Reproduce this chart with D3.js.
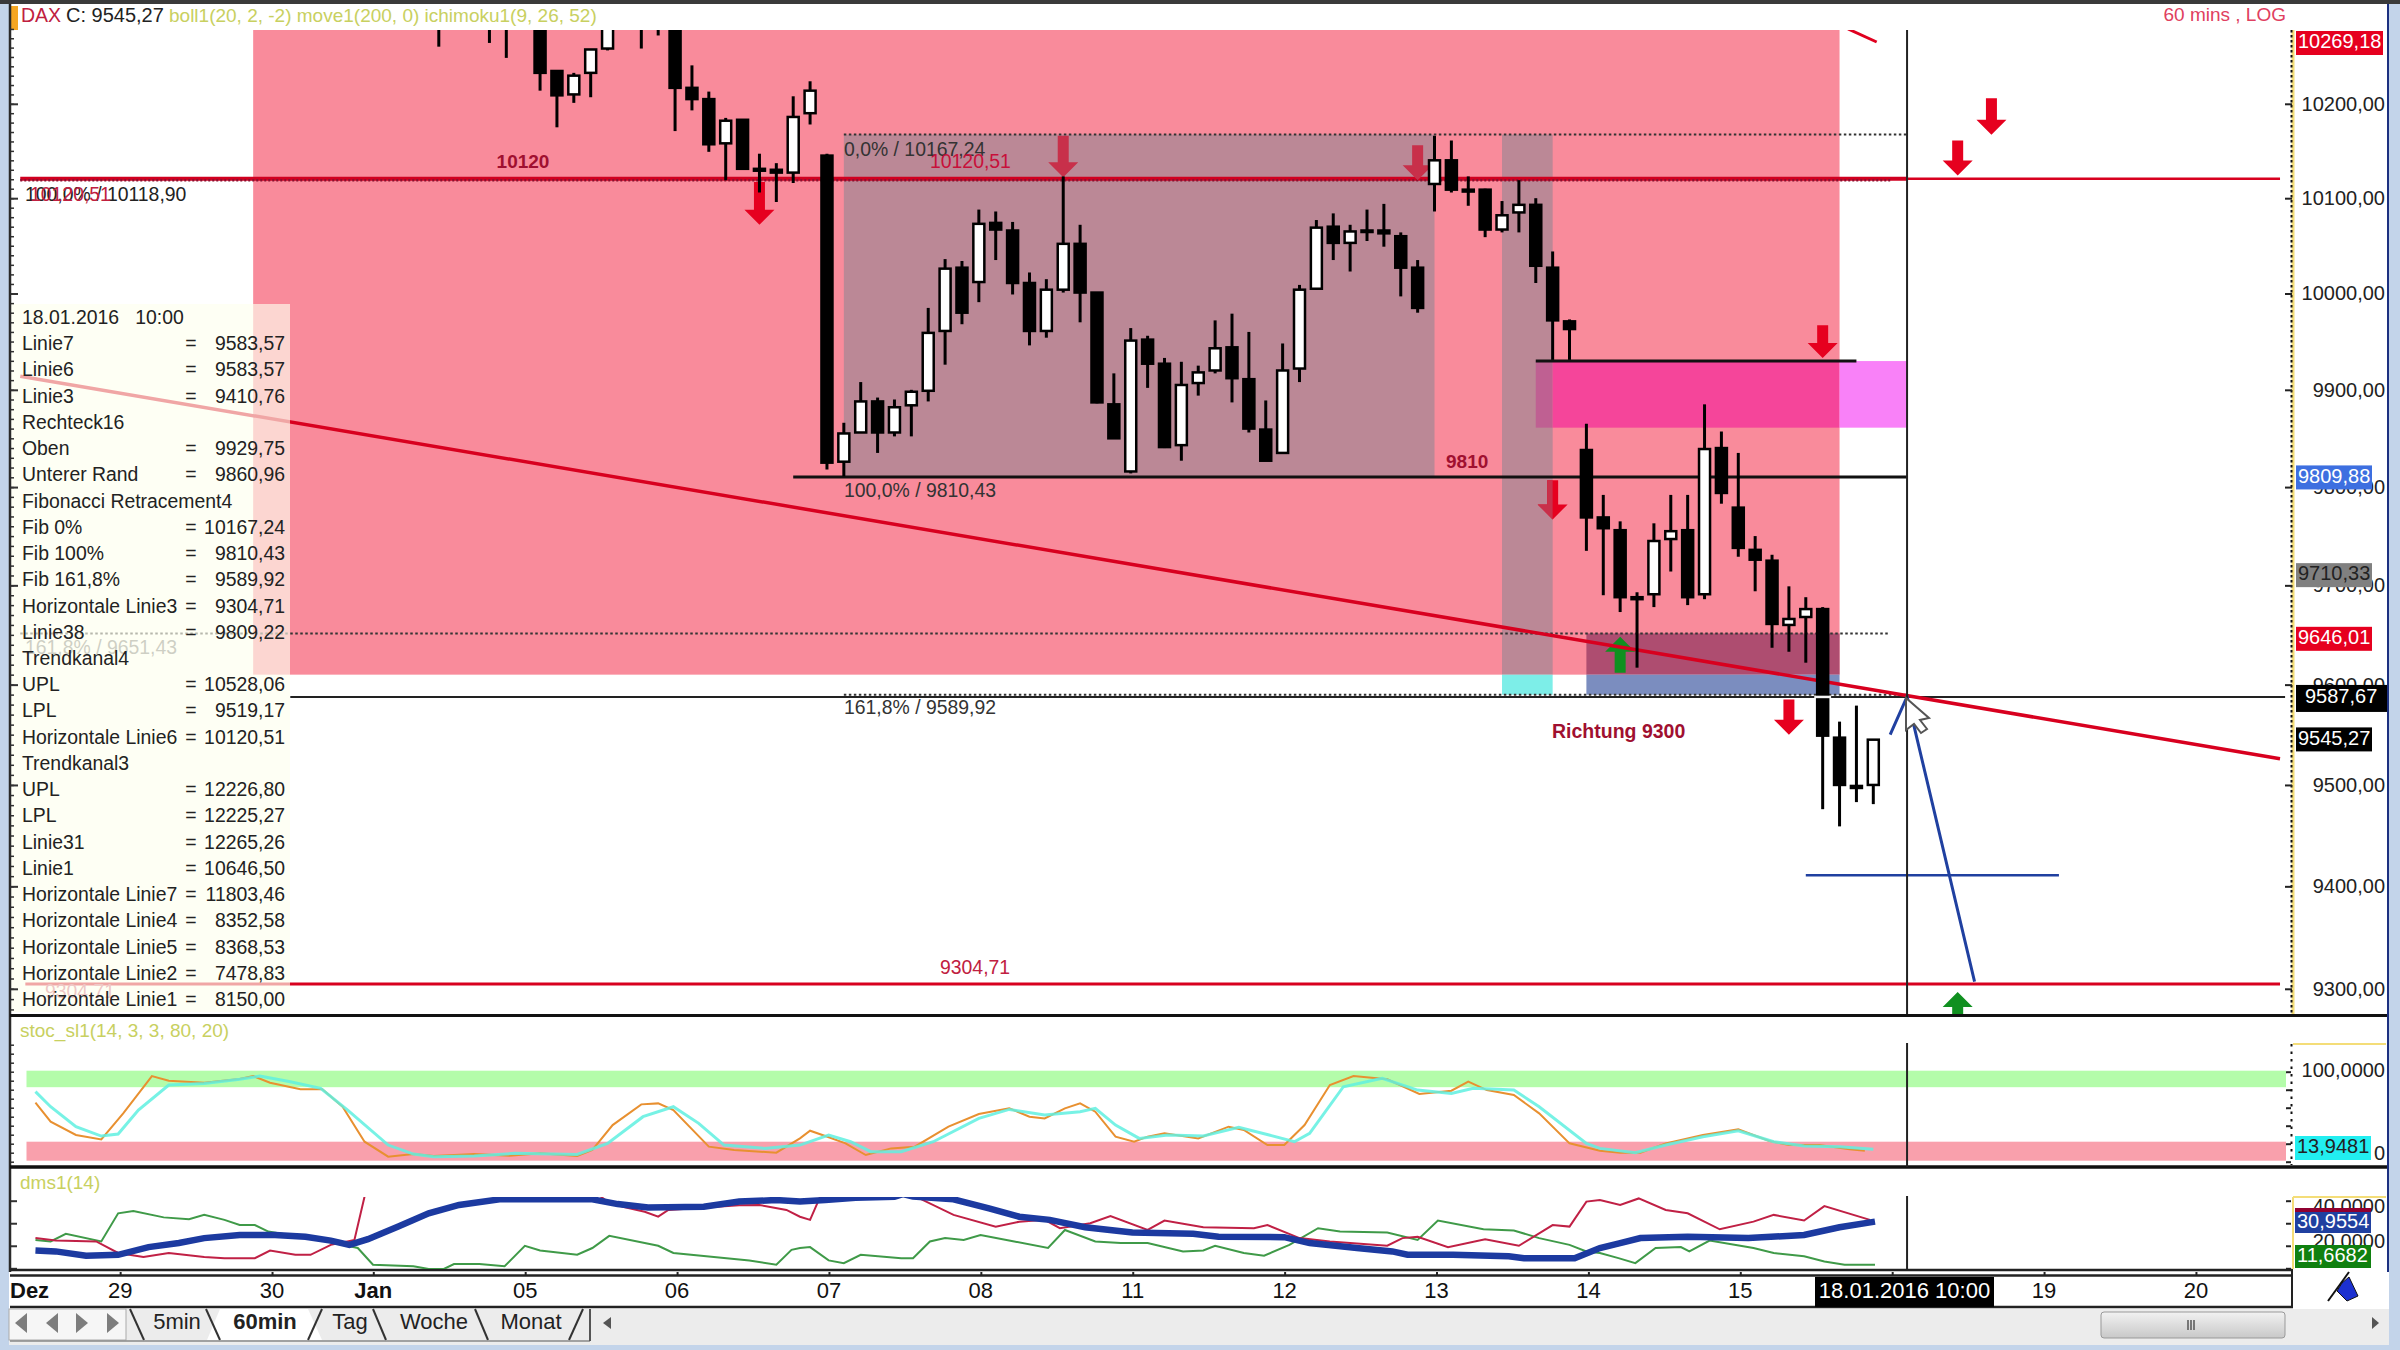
<!DOCTYPE html>
<html>
<head>
<meta charset="utf-8">
<script src="https://cdn.jsdelivr.net/npm/d3@7"></script>
<style>
  html, body { margin: 0; padding: 0; background: #fff; }
  text { font-family: "Liberation Sans", Arial, sans-serif; white-space: pre; }
</style>
</head>
<body>
<svg id="chart" width="2400" height="1350"></svg>
<script>
// open, high, low, close per 60 min bar, first bars run above the visible range
const candles = [
  [10295,10320,10261,10300],[10320,10340,10300,10330],[10320,10340,10300,10330],[10295,10310,10265,10300],
  [10290,10310,10249,10295],[10320,10340,10300,10330],[10300,10310,10214,10233],[10235,10236,10175,10209],
  [10210,10233,10201,10230],[10233,10258,10207,10258],[10259,10310,10257,10300],[10320,10340,10300,10330],
  [10290,10310,10259,10300],[10290,10320,10273,10300],[10300,10310,10171,10217],[10217,10241,10193,10205],
  [10205,10213,10149,10157],[10158,10185,10119,10182],[10183,10183,10130,10131],[10131,10147,10106,10129],
  [10130,10137,10096,10127],[10127,10208,10116,10186],[10190,10224,10178,10214],
  [10145,10147,9818,9825],[9826,9866,9811,9855],[9856,9908,9856,9888],[9888,9892,9835,9856],
  [9856,9890,9852,9882],[9884,9900,9852,9898],[9899,9985,9888,9959],[9961,10036,9926,10026],
  [10027,10034,9968,9980],[10012,10088,9991,10073],[10074,10086,10035,10067],[10066,10075,9999,10011],
  [10011,10022,9946,9961],[9961,10015,9954,10004],[10004,10123,10001,10052],[10052,10072,9970,10001],
  [10001,10001,9886,9887],[9885,9917,9850,9850],[9816,9964,9814,9951],[9952,9956,9902,9927],
  [9927,9933,9840,9841],[9843,9929,9827,9905],[9907,9925,9894,9918],[9920,9972,9917,9943],
  [9944,9979,9887,9912],[9911,9960,9856,9860],[9859,9889,9827,9827],[9835,9948,9835,9920],
  [9922,10009,9908,10004],[10005,10077,10004,10069],[10070,10084,10035,10053],[10053,10072,10023,10065],
  [10066,10088,10055,10065],[10066,10094,10049,10063],[10060,10064,9997,10027],[10027,10035,9980,9985],
  [10115,10166,10086,10140],[10140,10161,10106,10109],[10109,10123,10092,10107],[10109,10110,10059,10067],
  [10067,10097,10064,10082],[10085,10119,10064,10093],[10093,10100,10011,10029],[10027,10044,9931,9972],
  [9971,9973,9931,9963],[9838,9865,9735,9769],[9769,9792,9690,9758],[9756,9765,9673,9688],
  [9688,9693,9617,9686],[9691,9763,9678,9745],[9747,9792,9714,9755],[9756,9792,9680,9688],
  [9691,9885,9686,9839],[9840,9857,9783,9794],[9779,9835,9729,9738],[9736,9750,9694,9726],
  [9725,9731,9637,9661],[9660,9699,9633,9666],[9668,9688,9622,9676],[9676,9678,9476,9549],
  [9547,9563,9459,9500],[9499,9579,9483,9497],[9500,9545,9481,9545]
];

const priceTicks = [10200, 10100, 10000, 9900, 9800, 9700, 9600, 9500, 9400, 9300];

// bar index, label (the 18th sits under the date tag)
const dayTicks = [[-19,"29"],[-10,"30"],[-4,"Jan"],[5,"05"],[14,"06"],[23,"07"],[32,"08"],[41,"11"],[50,"12"],[59,"13"],[68,"14"],[77,"15"],[95,"19"],[104,"20"]];
const hiddenDayTick = 86;

// stoch lines as [bar index, value]
const stochFast = [[-23.9,65.6],[-23,44.5],[-21.5,29.7],[-20,24.8],[-18.7,53.7],[-17,95.2],[-16,90],[-13.9,87.8],[-11.8,91.9],[-11,95.2],[-10,87.8],[-8.2,80.4],[-6.9,80.4],[-5.7,61.1],[-4.4,22.2],[-3,5.6],[-1.5,8.5],[-0.3,6.3],[2.1,8.5],[4.2,6.7],[6,9.3],[8.2,6.3],[9.1,13],[10.3,40.7],[12,63.7],[13,64.8],[13.9,57.4],[16,16.7],[17.5,13],[20,10],[21.4,25.9],[22,34.4],[22.9,28.5],[24.1,20.4],[25.3,7.4],[26.8,14.8],[28.2,16.7],[30.2,38.9],[32,53],[33.8,59.3],[35,50],[35.9,48.1],[37.1,59.3],[38,64.8],[38.9,55.6],[40.1,27.8],[41.2,22.2],[42,27.8],[43,31.5],[45,25.9],[46.8,38.9],[47.7,35.2],[49.1,18.5],[50.1,18.5],[51.3,40.7],[52.8,85.2],[54.2,95.2],[56.2,91.5],[58.1,75.2],[60,78.9],[61,88.9],[62.1,79.6],[63.7,74.1],[65.2,53.7],[67,20.4],[68.8,12.2],[70,10],[71.2,10],[72.7,20.4],[74.9,29.6],[77,35.9],[78.8,23.3],[80,18.5],[81.8,18.5],[83.6,13.7],[84.5,12.2]];
const stochSlow = [[-23.9,77.8],[-23,61.1],[-21.5,38.9],[-20,28.5],[-19,30.7],[-17.8,57.4],[-16,85.2],[-13.9,87],[-11.8,91.5],[-10.6,95.2],[-8.8,88.9],[-7,81.5],[-5.4,57.4],[-3,18.5],[-1.5,8.5],[-0.3,5.6],[2.1,6.3],[4.5,9.3],[8.2,8.1],[10,20.4],[12.1,50],[13.9,61.1],[15.4,42.6],[16.9,18.5],[19.3,14.8],[21.4,18.5],[23.1,29.6],[24.4,22.2],[25.6,11.1],[27.4,11.1],[29.3,22.2],[32,48.1],[33.8,58.1],[35.9,51.9],[38,55.6],[38.9,59.3],[40.1,40.7],[41.5,25.9],[43.2,29.6],[45.3,28.5],[47.4,38.1],[49.2,29.6],[50.7,22.2],[51.6,31.5],[53.6,83.3],[55.9,92.6],[58,79.6],[60,75.9],[61.3,81.5],[63.7,79.6],[65.2,61.1],[68,20.4],[68.8,14.8],[70.9,10],[72.7,18.5],[74.9,27.8],[77,34.4],[79.1,22.2],[80.9,17.4],[83,16.7],[85,13.7]];

// dms lines as [bar index, value]
const dmsAdx = [[-23.9,17.9],[-22.7,17.5],[-20.9,15.6],[-19,16],[-17.2,19.4],[-15.4,21.2],[-13.9,23.4],[-11.8,24.8],[-9.7,24.8],[-7.9,24],[-6.4,22.3],[-5.3,20.4],[-4.2,22.9],[-2.4,28.5],[-0.6,34.4],[1.2,38.1],[3.6,40.6],[9.1,40.6],[10.6,38.5],[12.4,37],[15.7,37.3],[17.8,39.6],[20,40.3],[21.4,39.6],[22.9,40.3],[24.7,41.3],[27,41.8],[27.5,42.9],[28.1,41.8],[30.5,40.6],[32.6,36.6],[34.4,32.9],[36.2,31.5],[38.3,28.2],[41.1,25.9],[44.7,25.3],[46.2,24],[50.1,23.8],[51.6,21.2],[54.4,19],[56.5,17.5],[57.4,16],[60.1,16],[63.4,15.3],[64.3,14.5],[67.3,14.5],[68.8,19],[70,21.2],[71.2,23.4],[74,24],[77.6,23.4],[80.9,24.8],[83,28.2],[85.1,30.7]];
const dmsPlus = [[-23.9,23.4],[-22.7,22.3],[-20.3,21.9],[-19,16.8],[-17.5,15],[-16,16.8],[-13.9,15],[-12.7,14.5],[-10.9,14.5],[-10,17.9],[-8.5,16],[-7.6,16],[-6.4,20.4],[-5,22.6],[-4.4,41.8],[-3.6,47.6],[8.8,46.2],[10,39.6],[10.9,37.3],[12.2,35.1],[13,32.9],[13.6,35.9],[17.8,38],[19,38.1],[20.6,35.9],[21.4,32.9],[22,31.5],[22.6,41.8],[23.2,46.2],[27.7,46.2],[28.4,41.3],[30.5,33.7],[33,28.5],[34.4,30.7],[35.9,31.5],[36.8,27.8],[38.6,30],[39.8,33.2],[42,27],[43,31.2],[45.3,28.2],[48.3,27.8],[49.1,29.2],[51,23.4],[52.8,21.9],[56.2,20],[57.1,23.4],[58,24],[59.8,19.4],[62,22.9],[64,20],[66,29.2],[67,28.5],[68,39.6],[68.8,40.3],[70,38.1],[71.1,41],[72.7,35.9],[74,34.4],[75.9,27.3],[77.9,30.7],[79.1,33.7],[80.9,31.2],[82.1,37.6],[84.8,31.5]];
const dmsMinus = [[-23.9,22.6],[-23,21.9],[-22.1,25.3],[-20,21.9],[-19,34.4],[-18.1,35.4],[-16.3,32.6],[-14.8,31.8],[-13.9,33.7],[-12.7,31.5],[-11.8,29.2],[-10.9,29.2],[-10.1,26.3],[-6.7,22],[-4.8,19],[-3.9,11.6],[-1.5,10.9],[-0.6,9.7],[0.3,9.7],[0.9,11.9],[2.4,11.9],[3.9,10.9],[5.1,20],[6,17.9],[8.2,16],[9.1,19],[10.1,24.4],[13,20],[13.9,16.8],[16.3,15],[18.4,13.5],[20,11.6],[20.9,18.2],[21.4,19],[22,19.4],[23.1,13.5],[24,12.3],[25,16],[27.4,14.5],[28.1,14.5],[29.1,21.9],[30,23.4],[31.1,22.6],[32.1,24.8],[34.1,21.9],[36.1,19],[37.1,27],[38.9,21.9],[40.4,21.2],[42,21.2],[44.1,17.5],[45.3,17.9],[46,20],[47.7,16.8],[48.9,15.6],[50.4,20.4],[52.1,27.8],[53.4,26.3],[56.2,25.9],[58,22.6],[59.2,31.2],[61.9,27.3],[63.7,26.8],[65.2,23.4],[67,20.4],[68,17.5],[68.8,16.8],[69.9,14.5],[70.9,12.3],[72.1,19],[73.6,19.4],[74.1,17.5],[75.3,22.3],[77.9,19],[79.1,16.8],[80.9,15.3],[82.1,13],[83.3,11.6],[85.1,11.6]];

// signal arrows: bar index, tail price, tip price
const arrowsDown = [[19,10117,10072],[80,9585,9550],[82,9967,9933],[90,10161,10124],[92,10206,10167]];
const arrowsDownMuted = [[37,10166,10122],[58,10156,10119]];
const arrowsUp = [[70,9612,9648],[90,9274,9297]];

// info box on the left
const infoRows = [
  ["Linie7","9583,57"],["Linie6","9583,57"],["Linie3","9410,76"],["Rechteck16",""],["Oben","9929,75"],["Unterer Rand","9860,96"],
  ["Fibonacci Retracement4",""],["Fib 0%","10167,24"],["Fib 100%","9810,43"],["Fib 161,8%","9589,92"],["Horizontale Linie3","9304,71"],
  ["Linie38","9809,22"],["Trendkanal4",""],["UPL","10528,06"],["LPL","9519,17"],["Horizontale Linie6","10120,51"],["Trendkanal3",""],
  ["UPL","12226,80"],["LPL","12225,27"],["Linie31","12265,26"],["Linie1","10646,50"],["Horizontale Linie7","11803,46"],
  ["Horizontale Linie4","8352,58"],["Horizontale Linie5","8368,53"],["Horizontale Linie2","7478,83"],["Horizontale Linie1","8150,00"]
];

// tags on the price scale: price, text, fill, text colour, right edge
const priceTags = [
  [10269.18,"10269,18","#e6001f","#fff",2383],[9809.88,"9809,88","#3d6fe0","#fff",2372],[9710.33,"9710,33","#808080","#222",2372],
  [9646.01,"9646,01","#e6001f","#fff",2372],[9587.67,"9587,67","#000","#fff",2388],[9545.27,"9545,27","#000","#fff",2372]
];

const tabNames = ["5min","60min","Tag","Woche","Monat"];
const tabCenters = [177, 265, 350, 434, 531];

const svg = d3.select("#chart");

const x = d3.scaleLinear().domain([0, 85]).range([438.8, 1873.3]);
const y = d3.scaleLog().domain([10200, 9300]).range([103.8, 988.8]);
const yStoch = d3.scaleLinear().domain([0, 100]).range([1161.7, 1071.7]);
const yDms = d3.scaleLinear().domain([40, 10]).range([1200.7, 1268.3]);

const comma = v => d3.format(".2f")(v).replace(".", ",");
const cross = 87;   // bar index of the crosshair

// window background
svg.append("rect").attr("width", 2400).attr("height", 1350).attr("fill", "#c3d4ea");
svg.append("rect").attr("x", 9).attr("y", 4).attr("width", 2380).attr("height", 1341).attr("fill", "#fff");
svg.append("rect").attr("width", 2400).attr("height", 4).attr("fill", "#3a3a3a");

const defs = svg.append("defs");
defs.append("clipPath").attr("id", "mainClip").append("rect").attr("x", 10).attr("y", 30).attr("width", 2280).attr("height", 985);
defs.append("clipPath").attr("id", "dmsClip").append("rect").attr("x", 10).attr("y", 1197).attr("width", 2280).attr("height", 72);
defs.append("clipPath").attr("id", "greyClip").append("rect").attr("x", x(63)).attr("y", 30).attr("width", x(66) - x(63)).attr("height", 985);

const main = svg.append("g").attr("clip-path", "url(#mainClip)");

function zone(g, i0, i1, pTop, pBottom, fill) {
  g.append("rect")
    .attr("x", x(i0)).attr("width", x(i1) - x(i0))
    .attr("y", y(pTop)).attr("height", y(pBottom) - y(pTop))
    .attr("fill", fill);
}

// shaded zones
zone(main, -11, 83, 10400, 9610, "#f98b9b");
zone(main, 24, 59, 10167.24, 9810.43, "#bb8896");
zone(main, 63, 66, 10167.24, 9610, "#bb8896");
zone(main, 63, 66, 9610, 9589.92, "#7deee8");
zone(main, 68, 83, 9651.43, 9610, "#ae4d70");
zone(main, 68, 83, 9610, 9589.92, "#7b8dbf");
zone(main, 65, 66, 9929.75, 9860.96, "#bf6092");
zone(main, 66, 83, 9929.75, 9860.96, "#f5459a");
zone(main, 83, 87, 9929.75, 9860.96, "#f981f8");

function hLine(g, i0, i1, price, color, width, dash) {
  g.append("line")
    .attr("x1", x(i0)).attr("x2", x(i1))
    .attr("y1", y(price)).attr("y2", y(price))
    .attr("stroke", color).attr("stroke-width", width)
    .attr("stroke-dasharray", dash || null);
}

function arrowPath(i, pTail, pTip) {
  const cx = x(i), a = y(pTail), b = y(pTip), dir = b > a ? 1 : -1;
  const neck = b - dir * 15;
  return `M${cx - 5.5},${a}L${cx + 5.5},${a}L${cx + 5.5},${neck}L${cx + 15},${neck}L${cx},${b}L${cx - 15},${neck}L${cx - 5.5},${neck}Z`;
}

// levels
hLine(main, -24.8, 87, 10120.51, "#d00020", 4);
hLine(main, -24.8, 86, 10118.9, "#8a1030", 2.5, "2 2");
hLine(main, 87, 109.1, 10120.51, "#d8001f", 2.5);
hLine(main, 24, 87, 10167.24, "#333", 2, "2.5 2.5");
hLine(main, 24, 87, 9589.92, "#333", 2, "2.5 2.5");
hLine(main, -24.8, 86, 9651.43, "#333", 2, "2.5 2.5");
hLine(main, 21, 87, 9810.43, "#111", 3);
hLine(main, 65, 84, 9929.75, "#111", 3);
hLine(main, -8.8, 109.4, 9587.67, "#222", 2);
hLine(main, -24.5, 109.1, 9304.71, "#d8001f", 3);
hLine(main, 81, 96, 9410.76, "#2040a0", 2.5);

// green markers sit under the trend line
main.selectAll(".arrowUp").data(arrowsUp).join("path")
  .attr("d", d => arrowPath(d[0], d[1], d[2]))
  .attr("fill", "#109020");

// trend line and the drawn projection
const trendLine = d3.line().x(d => x(d[0])).y(d => y(d[1]));
main.append("path").attr("d", trendLine([[-24.8, 9914], [109.1, 9526]]))
  .attr("stroke", "#d8001f").attr("stroke-width", 3.5).attr("fill", "none");
main.append("path").attr("d", trendLine([[83.5, 10280], [85.2, 10266]]))
  .attr("stroke", "#e0001f").attr("stroke-width", 3).attr("fill", "none");
main.append("path").attr("d", trendLine([[86, 9550], [87, 9588], [91, 9307]]))
  .attr("stroke", "#2040a0").attr("stroke-width", 3).attr("fill", "none");

// red signal arrows
main.selectAll(".arrowDown").data(arrowsDown).join("path")
  .attr("d", d => arrowPath(d[0], d[1], d[2]))
  .attr("fill", "#e6001f");
main.selectAll(".arrowMuted").data(arrowsDownMuted).join("path")
  .attr("d", d => arrowPath(d[0], d[1], d[2]))
  .attr("fill", "#c8304a");
// this one is half over the grey strip
main.append("path").attr("d", arrowPath(66, 9807, 9767)).attr("fill", "#e6001f");
main.append("path").attr("d", arrowPath(66, 9807, 9767)).attr("fill", "#c8304a").attr("clip-path", "url(#greyClip)");

// candles
const bars = main.selectAll(".candle").data(candles).join("g").attr("class", "candle");
bars.append("line")
  .attr("x1", (d, i) => x(i)).attr("x2", (d, i) => x(i))
  .attr("y1", d => y(d[1])).attr("y2", d => y(d[2]))
  .attr("stroke", "#000").attr("stroke-width", 3);
bars.append("rect")
  .attr("x", (d, i) => x(i) - 5.5).attr("width", 11)
  .attr("y", d => y(Math.max(d[0], d[3])))
  .attr("height", d => Math.max(y(Math.min(d[0], d[3])) - y(Math.max(d[0], d[3])), 1.5))
  .attr("fill", d => d[3] >= d[0] ? "#fff" : "#000")
  .attr("stroke", "#000").attr("stroke-width", 2.5);
// crosshair cuts the long bar
hLine(main, 81.5, 82.5, 9587.67, "#f4f4f4", 2.5);

// crosshair
function vCross(y0, y1) {
  svg.append("line").attr("x1", x(cross)).attr("x2", x(cross))
    .attr("y1", y0).attr("y2", y1).attr("stroke", "#222").attr("stroke-width", 2);
}
vCross(30, 1015);

function label(g, px, py, str, size, fill, opt) {
  opt = opt || {};
  return g.append("text").attr("x", px).attr("y", py)
    .attr("dominant-baseline", "middle")
    .attr("text-anchor", opt.anchor || "start")
    .attr("font-size", size)
    .attr("font-weight", opt.bold ? "bold" : "normal")
    .attr("fill", fill)
    .text(str);
}

// labels on the chart
label(svg, 523, 163, "10120", 19, "#a01030", { anchor: "middle", bold: true });
label(svg, 25, 196, "100,0% / 10118,90", 19.4, "#222");
label(svg, 30, 196, "10120,51", 19.4, "#c02040");
label(svg, 844, 151, "0,0% / 10167,24", 19.4, "#333");
label(svg, 930, 163, "10120,51", 19.4, "#c8103a");
label(svg, 844, 492, "100,0% / 9810,43", 19.4, "#333");
label(svg, 1446, 463, "9810", 19, "#a01030", { bold: true });
label(svg, 844, 709, "161,8% / 9589,92", 19.4, "#333");
label(svg, 1552, 733, "Richtung 9300", 19.5, "#a01030", { bold: true });
label(svg, 940, 969, "9304,71", 19.4, "#c02040");
label(svg, 25, 649, "161,8% / 9651,43", 19.4, "#777");
label(svg, 45, 993, "9304,71", 19.4, "#d06078");

// info box
svg.append("rect").attr("x", 10).attr("y", 304).attr("width", 280).attr("height", 708)
  .attr("fill", "#feffee").attr("opacity", 0.65);
label(svg, 22, 319, "18.01.2016   10:00", 19.4, "#222");
infoRows.forEach((r, k) => {
  const py = 345 + k * 26.24;
  label(svg, 22, py, r[0], 19.4, "#222");
  if (r[1]) {
    label(svg, 191, py, "=", 19.4, "#222", { anchor: "middle" });
    label(svg, 285, py, r[1], 19.4, "#222", { anchor: "end" });
  }
});

// header
svg.append("rect").attr("x", 10).attr("y", 6).attr("width", 8).attr("height", 24).attr("fill", "#f5a623");
label(svg, 21, 17, "DAX", 19.5, "#c02040");
label(svg, 66, 17, "C: 9545,27", 20, "#222");
label(svg, 169, 17, "boll1(20, 2, -2) move1(200, 0) ichimoku1(9, 26, 52)", 19, "#c8d060");
label(svg, 2286, 16, "60 mins , LOG", 19, "#e04060", { anchor: "end" });

// left scale ticks
const leftMinor = d3.range(9280, 10290, 10);
const leftAxis = d3.axisRight(y).tickValues(leftMinor).tickSize(4).tickFormat("");
const leftG = svg.append("g").attr("transform", "translate(10,0)").call(leftAxis);
leftG.select(".domain").remove();
leftG.selectAll("line").attr("stroke", "#333").attr("stroke-width", 1.5);
const leftMajor = d3.axisRight(y).tickValues(priceTicks).tickSize(8).tickFormat("");
const leftMajorG = svg.append("g").attr("transform", "translate(10,0)").call(leftMajor);
leftMajorG.select(".domain").remove();
leftMajorG.selectAll("line").attr("stroke", "#333").attr("stroke-width", 2);
const leftStoch = d3.axisRight(yStoch).tickValues(d3.range(0, 131, 10)).tickSize(4).tickFormat("");
const leftStochG = svg.append("g").attr("transform", "translate(10,0)").call(leftStoch);
leftStochG.select(".domain").remove();
leftStochG.selectAll("line").attr("stroke", "#333").attr("stroke-width", 1.5);
const leftDms = d3.axisRight(yDms).tickValues([40, 30, 20, 10]).tickSize(7).tickFormat("");
const leftDmsG = svg.append("g").attr("transform", "translate(10,0)").call(leftDms);
leftDmsG.select(".domain").remove();
leftDmsG.selectAll("line").attr("stroke", "#333").attr("stroke-width", 2);
svg.append("line").attr("x1", 10).attr("x2", 10).attr("y1", 4).attr("y2", 1272).attr("stroke", "#2a2a2a").attr("stroke-width", 2.5);

// right price scale
svg.append("line").attr("x1", 2293).attr("x2", 2293).attr("y1", 30).attr("y2", 1015)
  .attr("stroke", "#f4dd78").attr("stroke-width", 3);
svg.append("line").attr("x1", 2291.5).attr("x2", 2291.5).attr("y1", 30).attr("y2", 1015)
  .attr("stroke", "#111").attr("stroke-width", 2).attr("stroke-dasharray", "2.5 2.5");
const rightAxis = d3.axisLeft(y).tickValues(priceTicks).tickSize(7).tickFormat(comma);
const rightG = svg.append("g").attr("transform", "translate(2292,0)").call(rightAxis);
rightG.select(".domain").remove();
rightG.selectAll("line").attr("stroke", "#222").attr("stroke-width", 2);
rightG.selectAll("text")
  .attr("x", 93).attr("text-anchor", "end").attr("font-size", 20).attr("fill", "#222")
  .attr("font-family", "Liberation Sans");

priceTags.forEach(t => {
  const py = t[0] > 10250 ? 43 : y(t[0]);
  const wide = t[4] === 2388;
  svg.append("rect").attr("x", 2296).attr("width", t[4] - 2296).attr("y", py - 12).attr("height", wide ? 27 : 24).attr("fill", t[2]);
  label(svg, wide ? 2305 : 2298, py + (wide ? 1 : 0), t[1], 20, t[3]);
});

// pane separators
function sep(py, x1, color, w) {
  svg.append("line").attr("x1", 10).attr("x2", x1).attr("y1", py).attr("y2", py).attr("stroke", color).attr("stroke-width", w);
}
sep(1015.5, 2388, "#111", 3);
sep(1167, 2388, "#111", 3.5);
sep(1270, 2293, "#222", 2.5);
sep(1275.5, 2293, "#222", 2.5);
sep(1307, 2293, "#222", 2.5);
svg.append("line").attr("x1", 2388).attr("x2", 2388).attr("y1", 4).attr("y2", 1272).attr("stroke", "#1c3080").attr("stroke-width", 2);

// stochastic pane
label(svg, 20, 1032, "stoc_sl1(14, 3, 3, 80, 20)", 19, "#c8d060");
svg.append("rect").attr("x", 26.5).attr("width", 2259.5).attr("y", yStoch(100) - 1).attr("height", yStoch(80) - yStoch(100) - 1.5).attr("fill", "#b4fcaa");
svg.append("rect").attr("x", 26.5).attr("width", 2259.5).attr("y", yStoch(20) - 2).attr("height", yStoch(0) - yStoch(20) + 1).attr("fill", "#f9a0ac");

const lineStoch = d3.line().x(d => x(d[0])).y(d => yStoch(d[1]));
svg.append("path").attr("d", lineStoch(stochFast)).attr("fill", "none").attr("stroke", "#e89030").attr("stroke-width", 2);
svg.append("path").attr("d", lineStoch(stochSlow)).attr("fill", "none").attr("stroke", "#5ff0e0").attr("stroke-width", 3).attr("stroke-opacity", 0.85);
vCross(1043, 1167);

const stochAxis = d3.axisLeft(yStoch).tickValues(d3.range(0, 101, 20)).tickSize(5).tickFormat("");
const stochG = svg.append("g").attr("transform", "translate(2291,0)").call(stochAxis);
stochG.select(".domain").remove();
stochG.selectAll("line").attr("stroke", "#222").attr("stroke-width", 2);
svg.append("line").attr("x1", 2291.5).attr("x2", 2291.5).attr("y1", 1044).attr("y2", 1165).attr("stroke", "#111").attr("stroke-width", 2).attr("stroke-dasharray", "2.5 5");
svg.append("line").attr("x1", 2293).attr("x2", 2386).attr("y1", 1044).attr("y2", 1044).attr("stroke", "#f4dd78").attr("stroke-width", 2);
label(svg, 2385, yStoch(100), "100,0000", 20, "#222", { anchor: "end" });
label(svg, 2385, 1155, "0", 20, "#222", { anchor: "end" });
svg.append("rect").attr("x", 2295).attr("width", 76).attr("y", 1136).attr("height", 24).attr("fill", "#22eef0");
label(svg, 2297, 1148, "13,9481", 20, "#222");

// dms pane
label(svg, 20, 1184, "dms1(14)", 19, "#c8d060");
const lineDms = d3.line().x(d => x(d[0])).y(d => yDms(d[1]));
const dmsG = svg.append("g").attr("clip-path", "url(#dmsClip)");
dmsG.append("path").attr("d", lineDms(dmsMinus)).attr("fill", "none").attr("stroke", "#3f9a48").attr("stroke-width", 2);
dmsG.append("path").attr("d", lineDms(dmsPlus)).attr("fill", "none").attr("stroke", "#c02045").attr("stroke-width", 2);
dmsG.append("path").attr("d", lineDms(dmsAdx)).attr("fill", "none").attr("stroke", "#1c3aa0").attr("stroke-width", 6.5);
vCross(1196, 1270);

const dmsAxis = d3.axisLeft(yDms).tickValues([40, 30, 20, 10]).tickSize(5).tickFormat("");
const dmsAxisG = svg.append("g").attr("transform", "translate(2291,0)").call(dmsAxis);
dmsAxisG.select(".domain").remove();
dmsAxisG.selectAll("line").attr("stroke", "#222").attr("stroke-width", 2);
svg.append("line").attr("x1", 2293).attr("x2", 2293).attr("y1", 1197).attr("y2", 1269).attr("stroke", "#f4dd78").attr("stroke-width", 2);
svg.append("line").attr("x1", 2293).attr("x2", 2386).attr("y1", 1197).attr("y2", 1197).attr("stroke", "#f4dd78").attr("stroke-width", 2);
label(svg, 2385, 1208, "40,0000", 20, "#222", { anchor: "end" });
label(svg, 2385, 1243, "20,0000", 20, "#222", { anchor: "end" });
svg.append("rect").attr("x", 2295).attr("width", 76).attr("y", 1208).attr("height", 4).attr("fill", "#900030");
svg.append("rect").attr("x", 2295).attr("width", 76).attr("y", 1212).attr("height", 21).attr("fill", "#2040a0");
label(svg, 2297, 1223, "30,9554", 20, "#fff");
svg.append("rect").attr("x", 2295).attr("width", 76).attr("y", 1245).attr("height", 23).attr("fill", "#108010");
label(svg, 2297, 1257, "11,6682", 20, "#fff");

// date axis
const dateAxis = d3.axisTop(x)
  .tickValues(dayTicks.map(d => d[0]).concat([hiddenDayTick]))
  .tickSize(3)
  .tickFormat("");
const dateG = svg.append("g").attr("transform", "translate(2,1275)").call(dateAxis);
dateG.select(".domain").remove();
dateG.selectAll("line").attr("stroke", "#222").attr("stroke-width", 2);
svg.append("line").attr("x1", 2292).attr("x2", 2292).attr("y1", 1270).attr("y2", 1307).attr("stroke", "#222").attr("stroke-width", 2);
dayTicks.forEach(d => {
  label(svg, x(d[0]) + 2, 1292, d[1], 22, "#111", { anchor: "middle", bold: d[1] === "Jan" });
});
label(svg, 10, 1292, "Dez", 22, "#111", { bold: true });
svg.append("rect").attr("x", 1815).attr("y", 1277).attr("width", 179).attr("height", 30).attr("fill", "#000");
label(svg, 1904.5, 1292, "18.01.2016 10:00", 22, "#fff", { anchor: "middle" });

// flag icon
svg.append("path").attr("d", "M2328,1301L2349,1272").attr("stroke", "#111").attr("stroke-width", 2);
svg.append("path").attr("d", "M2342,1283L2349,1277L2358,1296L2347,1301L2337,1291Z").attr("fill", "#1c30d0").attr("stroke", "#111");

// tab bar
svg.append("rect").attr("x", 9).attr("y", 1309).attr("width", 2380).attr("height", 36).attr("fill", "#ececec");
svg.append("rect").attr("x", 9).attr("y", 1309).attr("width", 117).attr("height", 31).attr("fill", "#f6f6f6").attr("stroke", "#aaa");
[[21, -1], [52, -1], [82, 1], [113, 1]].forEach(b => {
  svg.append("path")
    .attr("d", `M${b[0] - b[1] * 6},1313L${b[0] + b[1] * 6},1323L${b[0] - b[1] * 6},1333Z`)
    .attr("fill", "#7d7d7d");
});
svg.append("path").attr("d", "M207,1340L220,1309L308,1309L322,1340Z").attr("fill", "#fff");
[[130,1309,144,1340],[206,1309,220,1340],[308,1340,322,1309],[373,1309,386,1340],[475,1309,488,1340],[583,1309,569,1340]].forEach(s => {
  svg.append("line").attr("x1", s[0]).attr("y1", s[1]).attr("x2", s[2]).attr("y2", s[3]).attr("stroke", "#333").attr("stroke-width", 2);
});
sep(1341, 590, "#888", 1.5);
svg.append("line").attr("x1", 590).attr("x2", 590).attr("y1", 1309).attr("y2", 1341).attr("stroke", "#555").attr("stroke-width", 2);
tabNames.forEach((t, k) => {
  label(svg, tabCenters[k], 1323, t, 22, "#222", { anchor: "middle", bold: t === "60min" });
});
svg.append("path").attr("d", "M603,1323L611,1317L611,1329Z").attr("fill", "#555");
svg.append("path").attr("d", "M2379,1323L2372,1317L2372,1329Z").attr("fill", "#555");
const grad = defs.append("linearGradient").attr("id", "thumb").attr("x1", 0).attr("x2", 0).attr("y1", 0).attr("y2", 1);
grad.append("stop").attr("offset", 0).attr("stop-color", "#f2f2f2");
grad.append("stop").attr("offset", 1).attr("stop-color", "#c8c8c8");
svg.append("rect").attr("x", 2101).attr("y", 1312).attr("width", 184).attr("height", 26).attr("rx", 3).attr("fill", "url(#thumb)").attr("stroke", "#999");
[2188, 2191, 2194].forEach(gx => {
  svg.append("line").attr("x1", gx).attr("x2", gx).attr("y1", 1320).attr("y2", 1330).attr("stroke", "#555").attr("stroke-width", 1.5);
});

// mouse pointer
svg.append("path").attr("d", "M1906,698L1906,730L1914,724L1921,733L1927,729L1920,720L1929,718Z")
  .attr("fill", "#fff").attr("stroke", "#555").attr("stroke-width", 2);
</script>
</body>
</html>
